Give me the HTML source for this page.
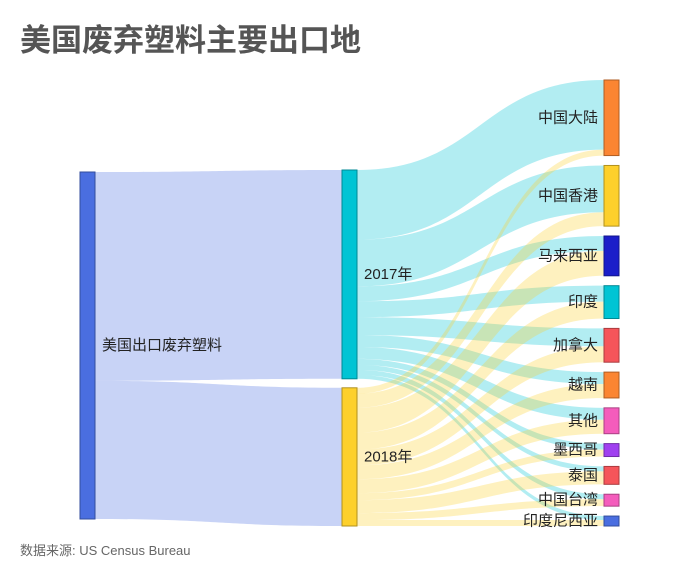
<!DOCTYPE html>
<html><head><meta charset="utf-8">
<style>
body{margin:0;background:#fff;}
svg text{font-family:"Liberation Sans","Noto Sans CJK SC",sans-serif;}
</style></head>
<body>
<svg id="chart" width="700" height="576" viewBox="0 0 700 576" xmlns="http://www.w3.org/2000/svg">
<text x="20" y="51" font-size="31" font-weight="bold" fill="#555">美国废弃塑料主要出口地</text>
<text x="20" y="555" font-size="13" fill="#666">数据来源: US Census Bureau</text>
<g id="links"></g>
<g id="nodes"></g>
</svg>
<script>
const destinations = ["中国大陆","中国香港","马来西亚","印度","加拿大","越南","其他","墨西哥","泰国","中国台湾","印度尼西亚"];
const values2017 = [70,47,15,16,18,12,12,6,5,5,4];
const values2018 = [6,14,25,17,16,14,14,7,13,7,6];
const destColors = ["#fb8532","#fdd02c","#1b1ec9","#00c4d4","#f5555a","#fb8532","#f45cbc","#a040f0","#f5555a","#f45cbc","#4a6ee0"];
const years = ["2017年","2018年"];
const rootLabel = "美国出口废弃塑料";

const svgNS = "http://www.w3.org/2000/svg";
const linksG = document.getElementById('links');
const nodesG = document.getElementById('nodes');
const xRoot=80, xMid=342, xRight=604, nw=15;

function sum(a){return a.reduce((s,v)=>s+v,0);}
const t17=sum(values2017), t18=sum(values2018);
const rootY=172, rootBottom=519, midY=170, midGap=9, rightY=80, rightBottom=526;
const k = (rootBottom-rootY)/(t17+t18);
const destTotals = destinations.map((d,i)=>values2017[i]+values2018[i]);
const rightGap = (rightBottom-rightY - sum(destTotals)*k)/(destinations.length-1);

function darker(c){
  const n=parseInt(c.slice(1),16);let r=(n>>16)*0.7|0,g=((n>>8)&255)*0.7|0,b=(n&255)*0.7|0;
  return `rgb(${r},${g},${b})`;
}
function rect(x,y,h,color,name){
  const r=document.createElementNS(svgNS,'rect');
  r.setAttribute('x',x);r.setAttribute('y',y);r.setAttribute('width',nw);r.setAttribute('height',h);
  r.setAttribute('fill',color);r.setAttribute('stroke',darker(color));r.setAttribute('stroke-width','1');
  
  
  nodesG.appendChild(r);
}
function label(x,y,txt,anchor,name){
  const t=document.createElementNS(svgNS,'text');
  t.setAttribute('x',x);t.setAttribute('y',y);t.setAttribute('font-size','15');t.setAttribute('fill','#222');
  t.setAttribute('text-anchor',anchor);t.setAttribute('dominant-baseline','central');
  t.textContent=txt;
  
  
  nodesG.appendChild(t);
}
function link(x0,y0,x1,y1,w,color,name){
  const p=document.createElementNS(svgNS,'path');
  const xm=(x0+x1)/2;
  const d=`M${x0},${y0}C${xm},${y0} ${xm},${y1} ${x1},${y1}L${x1},${y1+w}C${xm},${y1+w} ${xm},${y0+w} ${x0},${y0+w}Z`;
  p.setAttribute('d',d);
  p.setAttribute('fill',color);
  p.setAttribute('fill-opacity','0.3');
  
  
  linksG.appendChild(p);
}
const yearTotals=[t17,t18], yearColors=["#00c4d4","#fdd02c"], yearVals=[values2017,values2018];
const midTop=[midY, midY+t17*k+midGap];
let ry=rootY;
yearTotals.forEach((t,i)=>{
  const h=t*k;
  link(xRoot+nw,ry,xMid,midTop[i],h,"#4a6ee0","link-root-"+(i?"2018":"2017"));
  ry+=h;
});
const destTop=[];let yy=rightY;
destTotals.forEach((t,i)=>{destTop.push(yy);yy+=t*k+rightGap;});
const destFill=destTop.slice();
[0,1].forEach(yi=>{
  let sy=midTop[yi];
  yearVals[yi].forEach((v,di)=>{
    const h=v*k;
    link(xMid+nw,sy,xRight,destFill[di],h,yearColors[yi],"link-"+(yi?"2018":"2017")+"-"+di);
    sy+=h;destFill[di]+=h;
  });
});
rect(xRoot,rootY,(t17+t18)*k,"#4a6ee0","node-root");
label(xRoot+nw+7,rootY+(t17+t18)*k/2,rootLabel,"start","label-root");
yearTotals.forEach((t,i)=>{
  rect(xMid,midTop[i],t*k,yearColors[i],"node-year-"+(i?"2018":"2017"));
  label(xMid+nw+7,midTop[i]+t*k/2,years[i],"start","label-year-"+(i?"2018":"2017"));
});
destinations.forEach((d,i)=>{
  rect(xRight,destTop[i],destTotals[i]*k,destColors[i],"node-dest-"+i);
  label(xRight-6,destTop[i]+destTotals[i]*k/2,d,"end","label-dest-"+i);
});
</script>
</body></html>
